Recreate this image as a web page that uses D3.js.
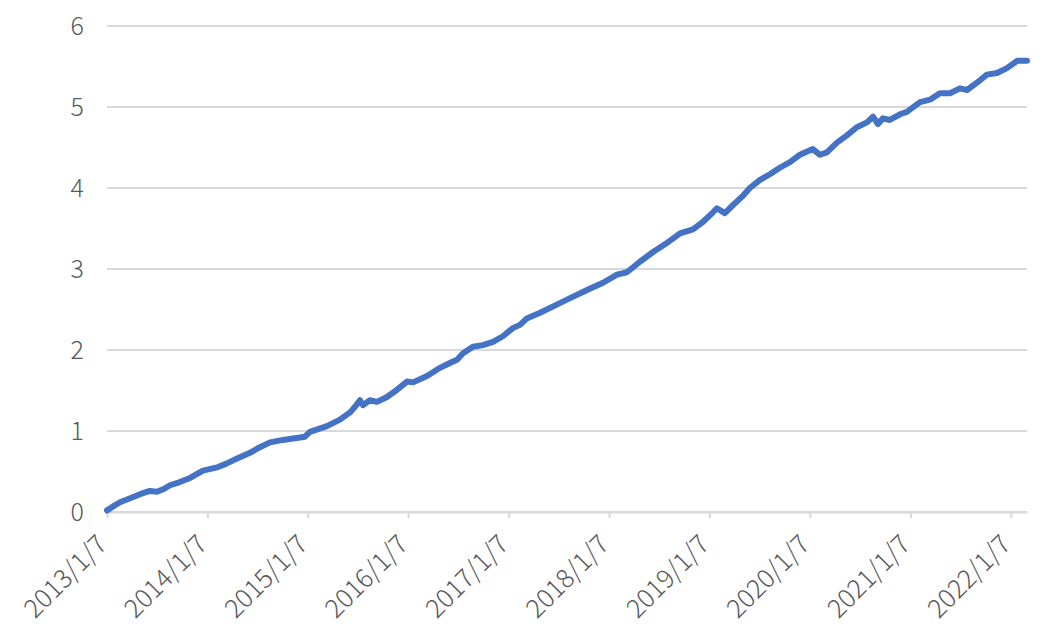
<html>
<head>
<meta http-equiv="Content-Type" content="text/html; charset=utf-8">
<title></title>
<style>
body{ margin:0; background:#fff; }
.grid line{ stroke:#d9d9d9; stroke-width:2px; }
.axis text{ fill:#595959; font-family:"Noto Sans CJK SC","Noto Sans",sans-serif; font-weight:300; }
.series{ fill:none; stroke:#4472c4; stroke-width:6px; stroke-linejoin:round; stroke-linecap:round; }
</style>
<script src="https://d3js.org/d3.v7.min.js" charset="utf-8"></script>
</head>
<body>
<div id="chart"></div>
<script>
// values
var dates = ["2013-01-07","2013-01-25","2013-02-23","2013-04-01","2013-05-07","2013-06-12","2013-07-08","2013-07-30",
	"2013-08-24","2013-09-29","2013-11-05","2013-12-22","2014-02-11","2014-03-19","2014-04-25","2014-06-11",
	"2014-07-17","2014-08-23","2014-10-09","2014-12-10","2014-12-28","2015-01-15","2015-03-18","2015-05-04",
	"2015-06-10","2015-06-28","2015-07-16","2015-07-27","2015-08-21","2015-09-16","2015-10-22","2015-11-28",
	"2016-01-03","2016-01-25","2016-03-16","2016-05-02","2016-06-07","2016-07-03","2016-07-25","2016-08-30",
	"2016-10-05","2016-11-11","2016-12-17","2017-01-22","2017-02-17","2017-03-14","2017-05-01","2017-07-01",
	"2017-08-18","2017-10-19","2017-12-16","2018-02-05","2018-03-13","2018-04-29","2018-06-16","2018-08-05",
	"2018-09-22","2018-11-08","2018-12-14","2019-01-20","2019-02-03","2019-03-04","2019-04-03","2019-05-05",
	"2019-06-03","2019-07-10","2019-08-15","2019-09-20","2019-10-27","2019-12-02","2020-01-18","2020-02-13",
	"2020-03-09","2020-04-15","2020-05-21","2020-06-26","2020-08-02","2020-08-24","2020-09-11","2020-09-29",
	"2020-10-24","2020-11-30","2020-12-25","2021-02-11","2021-03-19","2021-04-24","2021-05-31","2021-07-06",
	"2021-08-01","2021-09-06","2021-10-12","2021-11-18","2021-12-24","2022-01-30","2022-03-07"];
var values = [0.02,0.06,0.12,0.17,0.22,0.26,0.25,0.28,
	0.33,0.37,0.42,0.51,0.55,0.60,0.66,0.73,
	0.80,0.86,0.89,0.92,0.93,0.99,1.06,1.14,
	1.23,1.30,1.38,1.32,1.38,1.36,1.42,1.51,
	1.61,1.60,1.68,1.78,1.84,1.88,1.96,2.04,
	2.06,2.10,2.17,2.27,2.31,2.39,2.46,2.56,
	2.64,2.74,2.83,2.93,2.96,3.09,3.21,3.32,
	3.44,3.49,3.58,3.70,3.75,3.69,3.79,3.89,
	4.00,4.10,4.17,4.25,4.32,4.41,4.48,4.41,
	4.44,4.56,4.65,4.75,4.81,4.88,4.79,4.86,
	4.84,4.91,4.94,5.06,5.09,5.17,5.17,5.23,
	5.21,5.30,5.40,5.42,5.48,5.57,5.57];
var tickDates = ["2013-01-07","2014-01-07","2015-01-07","2016-01-07","2017-01-07",
	"2018-01-07","2019-01-07","2020-01-07","2021-01-07","2022-01-07"];
var yTicks = [0,1,2,3,4,5,6];

var width = 1062, height = 636;
var parseDate = d3.timeParse("%Y-%m-%d");
var fmt = function(d){ return d.getFullYear() + "/" + (d.getMonth()+1) + "/" + d.getDate(); };

var data = dates.map(function(d,i){ return {date: parseDate(d), value: values[i]}; });

var x = d3.scaleTime()
	.domain([parseDate(dates[0]), parseDate(dates[dates.length-1])])
	.range([107, 1027]);
var y = d3.scaleLinear().domain([0,6]).range([512, 26]);

var svg = d3.select("#chart").append("svg")
	.attr("width", width)
	.attr("height", height);

// horizontal gridlines
svg.append("g").attr("class","grid")
	.selectAll("line").data(yTicks).enter().append("line")
	.attr("x1", x.range()[0]).attr("x2", x.range()[1])
	.attr("y1", function(d){ return y(d); })
	.attr("y2", function(d){ return y(d); });

// y labels
var yAxis = svg.append("g").attr("class","axis")
	.attr("transform","translate(84,0)")
	.call(d3.axisLeft(y).tickValues(yTicks).tickFormat(d3.format("d")).tickSize(0).tickPadding(0));
yAxis.select(".domain").remove();
yAxis.selectAll("text").style("font-size","25px").attr("dy","0.35em");

// x axis with date ticks
var xAxis = svg.append("g").attr("class","axis")
	.attr("transform","translate(0,512)")
	.call(d3.axisBottom(x).tickValues(tickDates.map(parseDate)).tickFormat(fmt).tickSize(6).tickSizeOuter(0));
xAxis.select(".domain").attr("stroke","#d9d9d9").attr("stroke-width",2);
xAxis.selectAll(".tick line").attr("stroke","#d9d9d9").attr("stroke-width",2);
xAxis.selectAll("text")
	.style("font-size","26px")
	.style("text-anchor","end")
	.attr("y", 0)
	.attr("dx", 0)
	.attr("dy", 0)
	.attr("transform","translate(1,34) rotate(-45)");

svg.append("path")
	.datum(data)
	.attr("class","series")
	.attr("d", d3.line()
		.x(function(d){ return x(d.date); })
		.y(function(d){ return y(d.value); }));
</script>
</body>
</html>
